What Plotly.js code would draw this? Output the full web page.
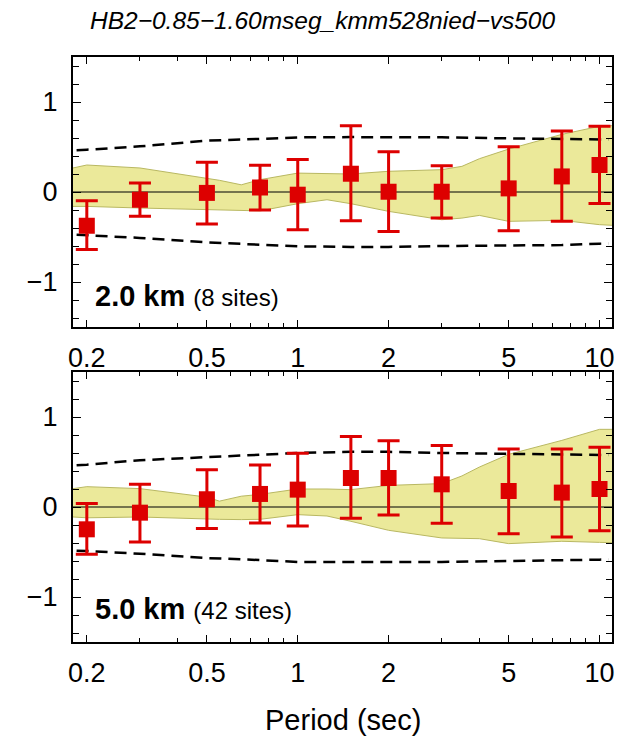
<!DOCTYPE html>
<html>
<head>
<meta charset="utf-8">
<script src="https://cdn.plot.ly/plotly-3.0.1.min.js"></script>
<style>html,body{margin:0;padding:0;background:#fff}#plot{width:630px;height:741px}</style>
</head>
<body>
<div id="plot"></div>
<script>
// ---- data ----
const chartTitle = "HB2\u22120.85\u22121.60mseg_kmm528nied\u2212vs500";
const periods = [0.2, 0.3, 0.5, 0.75, 1, 1.5, 2, 3, 5, 7.5, 10];

const top_label = "2.0 km";
const top_sites = "(8 sites)";
const top_mean = [-0.375, -0.086, -0.01, 0.05, -0.03, 0.203, 0.003, 0.003, 0.04, 0.173, 0.30];
const top_hi   = [-0.097, 0.10, 0.33, 0.296, 0.36, 0.737, 0.448, 0.292, 0.503, 0.677, 0.73];
const top_lo   = [-0.64, -0.27, -0.356, -0.20, -0.42, -0.319, -0.44, -0.29, -0.43, -0.326, -0.127];

const bot_label = "5.0 km";
const bot_sites = "(42 sites)";
const bot_mean = [-0.248, -0.063, 0.086, 0.145, 0.193, 0.322, 0.322, 0.252, 0.178, 0.16, 0.20];
const bot_hi   = [0.038, 0.252, 0.415, 0.467, 0.597, 0.782, 0.737, 0.682, 0.645, 0.645, 0.663];
const bot_lo   = [-0.526, -0.389, -0.24, -0.178, -0.211, -0.126, -0.089, -0.181, -0.296, -0.333, -0.263];

// shaded band
const band_x = [0.18, 0.2, 0.3, 0.5, 0.55, 0.65, 0.75, 1, 1.25, 1.5, 2, 3, 3.5, 4, 5, 7.5, 10, 11];
const top_band_hi = [0.267, 0.30, 0.267, 0.155, 0.13, 0.08, 0.137, 0.21, 0.20, 0.20, 0.23, 0.248, 0.285, 0.37, 0.477, 0.64, 0.73, 0.737];
const top_band_lo = [-0.16, -0.16, -0.178, -0.197, -0.20, -0.205, -0.21, -0.13, -0.086, -0.13, -0.215, -0.308, -0.29, -0.26, -0.326, -0.315, -0.363, -0.37];
const bot_band_hi = [0.204, 0.226, 0.204, 0.11, 0.065, 0.12, 0.14, 0.20, 0.20, 0.193, 0.24, 0.26, 0.345, 0.444, 0.585, 0.74, 0.863, 0.863];
const bot_band_lo = [-0.111, -0.12, -0.111, -0.137, -0.137, -0.14, -0.137, -0.085, -0.10, -0.159, -0.259, -0.344, -0.35, -0.352, -0.407, -0.381, -0.393, -0.396];

// dashed lines
const dash_x = [0.185, 0.2, 0.3, 0.5, 0.75, 1, 1.5, 2, 3, 5, 7.5, 10, 10.7];
const top_dash_hi = [0.465, 0.47, 0.507, 0.57, 0.59, 0.607, 0.61, 0.61, 0.607, 0.596, 0.59, 0.585, 0.583];
const top_dash_lo = [-0.475, -0.48, -0.51, -0.56, -0.585, -0.604, -0.61, -0.61, -0.60, -0.597, -0.59, -0.574, -0.572];
const bot_dash_hi = [0.465, 0.47, 0.52, 0.556, 0.585, 0.60, 0.613, 0.613, 0.60, 0.59, 0.585, 0.578, 0.577];
const bot_dash_lo = [-0.485, -0.489, -0.519, -0.567, -0.59, -0.611, -0.611, -0.611, -0.61, -0.60, -0.596, -0.585, -0.583];

const xMajor = [0.2, 0.5, 1, 2, 5, 10];
const xMajorText = ["0.2", "0.5", "1", "2", "5", "10"];
const xMinor = [0.3, 0.4, 0.6, 0.7, 0.8, 0.9, 3, 4, 6, 7, 8, 9];
const yMajor = [-1, 0, 1];
const yMajorText = ["\u22121", "0", "1"];
const xRange = [0.18, 11];
const yRange = [-1.5, 1.5];

// ---- styles ----
const RED = "#dd0000";
const BAND_FILL = "#ebe99a";
const BAND_EDGE = "#b9b862";
const FONT = "Liberation Sans, Arial, Helvetica, sans-serif";

function panel(xa, ya, mean, hi, lo, bhi, blo, dhi, dlo) {
  const t = [];
  t.push({x: band_x, y: blo, xaxis: xa, yaxis: ya, type: "scatter", mode: "lines",
          line: {color: BAND_EDGE, width: 1}, hoverinfo: "skip"});
  t.push({x: band_x, y: bhi, xaxis: xa, yaxis: ya, type: "scatter", mode: "lines",
          fill: "tonexty", fillcolor: BAND_FILL, line: {color: BAND_EDGE, width: 1}, hoverinfo: "skip"});
  t.push({x: xRange, y: [0, 0], xaxis: xa, yaxis: ya, type: "scatter", mode: "lines",
          line: {color: "#000", width: 1.2}, hoverinfo: "skip"});
  t.push({x: dash_x, y: dhi, xaxis: xa, yaxis: ya, type: "scatter", mode: "lines",
          line: {color: "#000", width: 2.5, dash: "12px,7px"}});
  t.push({x: dash_x, y: dlo, xaxis: xa, yaxis: ya, type: "scatter", mode: "lines",
          line: {color: "#000", width: 2.5, dash: "12px,7px"}});
  t.push({x: periods, y: mean, xaxis: xa, yaxis: ya, type: "scatter", mode: "markers",
          marker: {symbol: "square", size: 16, color: RED},
          error_y: {type: "data", symmetric: false,
                    array: hi.map((v, i) => v - mean[i]),
                    arrayminus: mean.map((v, i) => v - lo[i]),
                    color: RED, thickness: 3, width: 11}});
  return t;
}

const data = [].concat(
  panel("x", "y", top_mean, top_hi, top_lo, top_band_hi, top_band_lo, top_dash_hi, top_dash_lo),
  panel("x2", "y2", bot_mean, bot_hi, bot_lo, bot_band_hi, bot_band_lo, bot_dash_hi, bot_dash_lo)
);

const xDom = [73 / 630, 612 / 630];
function xaxis(anchor) {
  return {
    type: "log", domain: xDom, anchor: anchor,
    range: [Math.log10(xRange[0]), Math.log10(xRange[1])],
    tickmode: "array", tickvals: xMajor, ticktext: xMajorText,
    ticks: "inside", ticklen: 7, tickwidth: 1, tickcolor: "#000",
    minor: {tickmode: "array", tickvals: xMinor, ticks: "inside", ticklen: 4, tickwidth: 1, tickcolor: "#000"},
    showline: true, linewidth: 2, linecolor: "#000", mirror: "allticks",
    showgrid: false, zeroline: false,
    tickfont: {family: FONT, size: 27, color: "#000"},
    ticklabelstandoff: 6
  };
}
function yaxis(anchor, dom) {
  return {
    domain: dom, anchor: anchor, range: yRange,
    tickmode: "array", tickvals: yMajor, ticktext: yMajorText,
    ticks: "inside", ticklen: 8, tickwidth: 1, tickcolor: "#000",
    minor: {dtick: 0.2, tick0: 0, ticks: "inside", ticklen: 6, tickwidth: 1, tickcolor: "#000"},
    showline: true, linewidth: 2, linecolor: "#000", mirror: "allticks",
    showgrid: false, zeroline: false,
    tickfont: {family: FONT, size: 27, color: "#000"},
    ticklabelstandoff: 8
  };
}

const layout = {
  width: 630, height: 741,
  margin: {l: 0, r: 0, t: 0, b: 0},
  paper_bgcolor: "#fff", plot_bgcolor: "#fff",
  showlegend: false,
  title: {text: "<i>" + chartTitle + "</i>", font: {family: FONT, size: 24.5, color: "#000"},
          xref: "paper", x: 0.512, xanchor: "center", yref: "paper", y: 1 - 20 / 741, yanchor: "middle"},
  xaxis: xaxis("y"),
  yaxis: yaxis("x", [1 - 327 / 741, 1 - 57 / 741]),
  xaxis2: xaxis("y2"),
  yaxis2: yaxis("x2", [1 - 642 / 741, 1 - 372 / 741]),
  annotations: [
    {xref: "paper", yref: "paper", x: 93 / 630, y: 1 - 296 / 741, xanchor: "left", yanchor: "middle",
     showarrow: false, font: {family: FONT, size: 29, color: "#000"},
     text: "<b>" + top_label + "</b> <span style='font-size:24px'>" + top_sites + "</span>"},
    {xref: "paper", yref: "paper", x: 93 / 630, y: 1 - 609 / 741, xanchor: "left", yanchor: "middle",
     showarrow: false, font: {family: FONT, size: 29, color: "#000"},
     text: "<b>" + bot_label + "</b> <span style='font-size:24px'>" + bot_sites + "</span>"},
    {xref: "paper", yref: "paper", x: 343 / 630, y: 1 - 720 / 741, xanchor: "center", yanchor: "middle",
     showarrow: false, font: {family: FONT, size: 29, color: "#000"}, text: "Period (sec)"}
  ]
};

Plotly.newPlot("plot", data, layout, {staticPlot: true, displayModeBar: false});
</script>
</body>
</html>
